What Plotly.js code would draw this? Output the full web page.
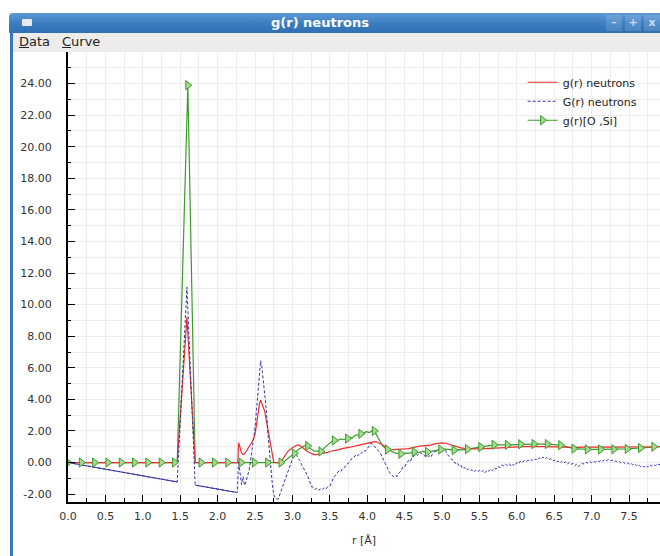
<!DOCTYPE html>
<html>
<head>
<meta charset="utf-8">
<script src="https://cdn.plot.ly/plotly-3.0.1.min.js"></script>
<style>
  html, body { margin: 0; padding: 0; width: 660px; height: 556px; overflow: hidden; background: #ffffff; font-family: "DejaVu Sans", sans-serif; }
  #plot { position: absolute; left: 0; top: 0; width: 660px; height: 556px; z-index: 0; }
  #titlebar { position: absolute; left: 9px; top: 13px; width: 660px; height: 20px; z-index: 2;
    background: linear-gradient(#5d9ad6, #3a7cc0 55%, #2f6fb2); border-radius: 4px 0 0 0; }
  #titlebar .icon { position: absolute; left: 13px; top: 6px; width: 10px; height: 7px; background: #e6e9ee; border-radius: 1px; }
  #titlebar .caption { position: absolute; left: 0; width: 622px; top: 2px; text-align: center; color: #ffffff; font-weight: bold; font-size: 13px; }
  #titlebar .btn { position: absolute; top: 2px; width: 16px; height: 16px; background: rgba(255,255,255,0.14);
    color: #c9dcf2; font-size: 11px; font-weight: bold; line-height: 15px; text-align: center; }
  #menubar { position: absolute; left: 13px; top: 33px; width: 647px; height: 19px; z-index: 2; background: #edecea; }
  #menubar span { position: absolute; top: 1px; font-size: 13px; color: #222; }
  #menubar u { text-decoration: underline; }
  #leftborder { position: absolute; left: 10px; top: 30px; width: 3px; height: 526px; z-index: 3; background: #3977b8; }
</style>
</head>
<body>
<div id="plot"></div>
<div id="titlebar">
  <div class="icon"></div>
  <div class="caption">g(r) neutrons</div>
  <div class="btn" style="left:597px">&#8211;</div>
  <div class="btn" style="left:616px">+</div>
  <div class="btn" style="left:635px">x</div>
</div>
<div id="menubar">
  <span style="left:6px"><u>D</u>ata</span>
  <span style="left:49px"><u>C</u>urve</span>
</div>
<div id="leftborder"></div>
<script>
// g(r) of the neutron data set, r in Angstrom
const redR = [0,1.46,1.59,1.70,2.27,2.28,
  2.30,2.32,2.34,2.36,2.38,2.40,2.42,2.44,2.46,2.48,2.50,2.52,2.54,2.56,2.575,
  2.59,2.61,2.63,2.65,2.67,2.69,2.71,2.73,2.75,2.77,2.80,2.83,2.87,
  2.90,2.93,2.96,2.99,3.02,3.05,3.08,3.11,3.14,3.17,3.20,3.23,3.26,3.29,3.32,3.35,
  3.38,3.41,3.44,3.47,3.50,3.53,3.56,3.59,3.62,3.65,3.68,3.71,3.74,3.77,3.80,3.83,
  3.86,3.89,3.92,3.95,3.98,4.01,4.04,4.07,4.10,4.13,4.16,4.19,4.22,4.25,4.28,4.31,
  4.35,4.40,4.45,4.50,4.55,4.60,4.65,4.70,4.75,4.80,4.85,4.90,4.95,5.00,5.05,5.10,
  5.15,5.20,5.25,5.30,5.35,5.40,
  5.50,5.60,5.70,5.80,5.90,6.00,6.10,6.20,6.30,6.40,6.50,6.60,6.70,6.80,6.90,7.00,
  7.10,7.20,7.30,7.40,7.50,7.60,7.70,7.80,7.92];
const redG = [0,0,9.2,0,0,1.25,
  0.95,0.6,0.5,0.55,0.7,0.85,0.95,1.1,1.3,1.5,1.8,2.4,3.1,3.75,3.95,
  3.8,3.5,3.25,2.7,2.1,1.5,0.9,0.35,0.02,0,0,0,0.2,
  0.45,0.65,0.8,0.92,1.0,1.08,1.12,1.05,0.92,0.8,0.7,0.62,0.55,0.5,0.5,0.52,
  0.55,0.56,0.6,0.64,0.7,0.72,0.76,0.8,0.82,0.86,0.9,0.93,0.96,0.98,1.0,1.02,
  1.06,1.1,1.13,1.17,1.2,1.24,1.28,1.31,1.32,1.3,1.22,1.12,1.03,0.95,0.88,0.84,
  0.82,0.82,0.84,0.86,0.88,0.95,1.0,1.04,1.06,1.08,1.1,1.18,1.22,1.25,1.22,1.15,
  1.05,0.98,0.93,0.9,0.88,0.87,
  0.87,0.9,0.93,0.95,0.97,0.99,1.01,1.02,1.02,1.01,0.99,0.97,0.95,0.96,0.98,0.99,
  0.98,0.98,0.97,0.97,0.98,0.99,1.0,1.0,1.0];

// G(r) of the neutron data set
const blueR = [0,1.46,1.59,1.70,2.25,2.265,2.28,
  2.30,2.32,2.34,2.36,2.38,2.40,2.42,2.44,2.46,2.48,2.50,2.52,2.54,2.56,2.575,
  2.59,2.61,2.63,2.65,2.67,2.69,2.71,2.73,2.75,2.78,2.81,2.84,
  2.875,2.9,2.925,2.95,2.975,3,3.025,3.05,
  3.075,3.1,3.125,3.15,3.175,3.2,3.225,3.25,
  3.275,3.3,3.325,3.35,3.375,3.4,3.425,3.45,
  3.475,3.5,3.525,3.55,3.575,3.6,3.625,3.65,
  3.675,3.7,3.725,3.75,3.775,3.8,3.825,3.85,
  3.875,3.9,3.925,3.95,3.975,4,4.025,4.05,
  4.075,4.1,4.125,4.15,4.175,4.2,4.225,4.25,
  4.275,4.3,4.325,4.35,4.375,4.4,4.425,4.45,
  4.475,4.5,4.525,4.55,4.575,4.6,4.625,4.65,
  4.675,4.7,4.725,4.75,4.775,4.8,4.825,4.85,
  4.875,4.9,4.925,4.95,4.975,5,5.025,5.05,
  5.075,5.1,5.125,5.15,5.175,5.2,5.225,5.25,
  5.275,5.3,5.325,5.35,5.375,5.4,5.425,5.45,
  5.475,5.5,5.525,5.55,5.575,5.6,5.625,5.65,
  5.675,5.7,5.725,5.75,5.775,5.8,5.825,5.85,
  5.875,5.9,5.925,5.95,5.975,6,6.025,6.05,
  6.075,6.1,6.125,6.15,6.175,6.2,6.225,6.25,
  6.275,6.3,6.325,6.35,6.375,6.4,6.425,6.45,
  6.475,6.5,6.525,6.55,6.575,6.6,6.625,6.65,
  6.675,6.7,6.725,6.75,6.775,6.8,6.825,6.85,
  6.875,6.9,6.925,6.95,6.975,7,7.025,7.05,
  7.075,7.1,7.125,7.15,7.175,7.2,7.225,7.25,
  7.275,7.3,7.325,7.35,7.375,7.4,7.425,7.45,
  7.475,7.5,7.525,7.55,7.575,7.6,7.625,7.65,
  7.675,7.7,7.725,7.75,7.775,7.8,7.825,7.85,
  7.875,7.9,7.925];
const blueG = [0,-1.23,11.1,-1.43,-1.89,-1.9,0.1,
  -0.9,-1.4,-0.9,-1.45,-1.2,-0.9,-0.5,0.1,0.7,1.4,2.2,3.3,4.6,5.9,6.45,
  6.1,5.3,4.6,3.4,2.0,0.8,-0.3,-1.3,-2.05,-2.3,-2.32,-1.9,
  -1.45,-1.1,-0.7,-0.35,-0.05,0.22,0.4,0.5,
  0.3,0.12,-0.15,-0.35,-0.62,-0.8,-1.1,-1.5,
  -1.55,-1.7,-1.62,-1.75,-1.66,-1.72,-1.6,-1.68,
  -1.52,-1.5,-1.25,-0.95,-0.8,-0.62,-0.5,-0.55,
  -0.35,-0.3,-0.1,-0.05,0.15,0.3,0.35,0.5,
  0.42,0.6,0.58,0.75,0.72,0.92,1.0,1.22,
  1.15,1.0,0.9,0.75,0.6,0.35,0.1,-0.25,
  -0.4,-0.65,-0.75,-0.9,-0.8,-0.88,-0.65,-0.55,
  -0.3,-0.28,-0.05,0.12,0.05,0.35,0.4,0.55,
  0.45,0.62,0.58,0.5,0.38,0.3,0.45,0.35,
  0.55,0.68,0.72,0.85,0.78,0.9,0.72,0.75,
  0.5,0.38,0.2,0.15,-0.05,0.0,-0.2,-0.15,
  -0.38,-0.3,-0.48,-0.4,-0.52,-0.45,-0.6,-0.48,
  -0.58,-0.5,-0.62,-0.5,-0.65,-0.48,-0.55,-0.4,
  -0.52,-0.35,-0.42,-0.25,-0.32,-0.15,-0.22,-0.1,
  -0.2,-0.08,-0.25,-0.12,-0.18,0.0,-0.08,0.1,
  0.02,0.12,0.05,0.15,0.08,0.18,0.1,0.22,
  0.15,0.3,0.22,0.35,0.25,0.32,0.18,0.25,
  0.1,0.15,0.02,0.1,-0.02,0.08,-0.05,0.05,
  -0.1,0.0,-0.12,-0.05,-0.2,-0.1,-0.25,-0.12,
  -0.05,-0.1,0.02,-0.05,0.05,0.0,0.08,0.02,
  0.12,0.05,0.15,0.08,0.2,0.12,0.18,0.1,
  0.15,0.05,0.1,0.0,0.05,-0.05,0.02,-0.08,
  0.0,-0.1,-0.05,-0.15,-0.08,-0.2,-0.12,-0.25,
  -0.18,-0.3,-0.2,-0.28,-0.15,-0.22,-0.12,-0.2,
  -0.08,-0.15,-0.05];

// partial g(r) for the O-Si pair: full curve and the sampled symbols
const greenLineR = [0,1.424,1.46,1.602,1.70,2.848,2.90,2.95,3.026,3.07,3.12,3.16,3.204,
  3.25,3.30,3.34,3.382,3.42,3.46,3.50,3.53,3.56,3.60,3.64,3.68,3.738,3.77,3.80,3.84,3.88,3.916,
  3.95,3.99,4.03,4.06,4.094,4.12,4.16,4.20,4.24,4.272,4.32,4.38,4.45,4.50,4.55,4.628,
  4.68,4.74,4.806,4.86,4.92,4.984,5.05,5.10,5.162,5.22,5.28,5.34,5.40,5.46,5.518,
  5.58,5.64,5.696,5.874,6.052,6.23,6.408,6.586,6.764,6.942,7.12,7.298,7.476,7.654,7.832,7.92];
const greenLineG = [0,0,0,23.9,0,0,0.1,0.3,0.57,0.8,0.95,1.05,1.05,
  0.85,0.72,0.7,0.7,0.9,1.05,1.25,1.35,1.4,1.35,1.5,1.45,1.52,1.6,1.55,1.72,1.75,1.82,
  1.85,1.95,1.9,2.0,2.0,1.8,1.4,1.1,0.9,0.82,0.7,0.6,0.55,0.6,0.58,0.66,
  0.62,0.7,0.67,0.72,0.78,0.82,0.85,0.8,0.78,0.82,0.8,0.85,0.9,0.92,0.98,
  1.02,1.08,1.12,1.12,1.16,1.17,1.17,1.1,0.88,0.83,0.83,0.84,0.86,0.92,1.0,1.0];
const greenMarkR = [0,0.178,0.356,0.534,0.712,0.89,1.068,1.246,1.424,1.602,1.78,1.958,
  2.136,2.314,2.492,2.67,2.848,3.026,3.204,3.382,3.56,3.738,3.916,4.094,4.272,4.45,
  4.628,4.806,4.984,5.162,5.34,5.518,5.696,5.874,6.052,6.23,6.408,6.586,6.764,6.942,
  7.12,7.298,7.476,7.654,7.832];
const greenMarkG = [0,0,0,0,0,0,0,0,0,23.9,0,0,
  0,0,0,0,0,0.57,1.05,0.7,1.4,1.52,1.82,2.0,0.82,0.55,
  0.66,0.67,0.82,0.78,0.85,0.98,1.12,1.12,1.16,1.17,1.17,1.1,0.88,0.83,
  0.83,0.84,0.86,0.92,1.0];

// axis ticks
const yTickVals = [-2,0,2,4,6,8,10,12,14,16,18,20,22,24];
const yTickLabels = ['-2.00','0.00','2.00','4.00','6.00','8.00','10.00','12.00','14.00','16.00','18.00','20.00','22.00','24.00'];

const RED = '#ee2b2b', BLUE = '#3434a6', GREEN = '#3d9b2d', GREEN_FILL = '#a4d98f';
const FONT = 'DejaVu Sans, sans-serif';

// the smooth low-r stretches of G(r) are drawn as a continuous stroke
const smoothG = blueG.map((g, i) => {
  const r = blueR[i];
  return (r <= 1.46 || (r >= 1.70 && r <= 2.25)) ? g : null;
});

const traces = [
  { x: greenLineR, y: greenLineG, mode: 'lines', line: { color: GREEN, width: 1.2 },
    showlegend: false, hoverinfo: 'skip' },
  { x: redR, y: redG, mode: 'lines', name: 'g(r) neutrons', line: { color: RED, width: 1.2 } },
  { x: blueR, y: blueG, mode: 'lines', name: 'G(r) neutrons', line: { color: BLUE, width: 1, dash: '3px,2px' } },
  { x: blueR, y: smoothG, mode: 'lines', line: { color: BLUE, width: 1 }, showlegend: false,
    connectgaps: false, hoverinfo: 'skip' },
  { x: greenMarkR, y: greenMarkG, mode: 'markers', showlegend: false,
    marker: { symbol: 'triangle-right', size: 8, color: GREEN_FILL, line: { color: GREEN, width: 1 } } },
  { x: [null], y: [null], mode: 'lines+markers', name: 'g(r)[O ,Si]', line: { color: GREEN, width: 1.2 },
    marker: { symbol: 'triangle-right', size: 8, color: GREEN_FILL, line: { color: GREEN, width: 1 } } }
];

const tickFont = { family: FONT, size: 11, color: '#333' };
const GRID = '#ececec';

const layout = {
  width: 660, height: 556,
  margin: { l: 68, r: 0, t: 52, b: 54 },
  paper_bgcolor: '#ffffff', plot_bgcolor: '#ffffff',
  showlegend: true,
  legend: { x: 0.768, y: 0.965, xanchor: 'left', yanchor: 'top', bgcolor: 'rgba(0,0,0,0)',
    borderwidth: 0, font: { family: FONT, size: 11, color: '#222' }, itemwidth: 30, tracegroupgap: 0 },
  xaxis: {
    range: [0, 7.914], showline: true, linecolor: '#000', linewidth: 2,
    ticks: 'inside', ticklen: 7, tickwidth: 1, tickcolor: '#000',
    tick0: 0, dtick: 0.5, tickformat: '.1f', tickfont: tickFont, ticklabelstandoff: 3,
    showgrid: true, gridcolor: GRID, gridwidth: 1, zeroline: false,
    minor: { tick0: 0, dtick: 0.25, ticks: 'inside', ticklen: 4, tickcolor: '#000', showgrid: true, gridcolor: GRID },
    title: { text: 'r [Å]', font: { family: FONT, size: 11, color: '#333' }, standoff: 14 }
  },
  yaxis: {
    range: [-2.5, 26], showline: true, linecolor: '#000', linewidth: 2,
    ticks: 'inside', ticklen: 7, tickwidth: 1, tickcolor: '#000',
    tickmode: 'array', tickvals: yTickVals, ticktext: yTickLabels,
    tickfont: tickFont, ticklabelstandoff: 12,
    showgrid: true, gridcolor: GRID, gridwidth: 1, zeroline: false,
    minor: { tickmode: 'linear', tick0: 0, dtick: 1, ticks: 'inside', ticklen: 3, tickcolor: '#000', showgrid: true, gridcolor: GRID }
  },
  shapes: [
    { type: 'line', xref: 'paper', x0: 0, x1: 1, yref: 'y', y0: 0, y1: 0,
      line: { color: '#8c8c8c', width: 1, dash: 'dot' }, layer: 'between' }
  ]
};

Plotly.newPlot('plot', traces, layout, { staticPlot: true, displayModeBar: false });
</script>
</body>
</html>
